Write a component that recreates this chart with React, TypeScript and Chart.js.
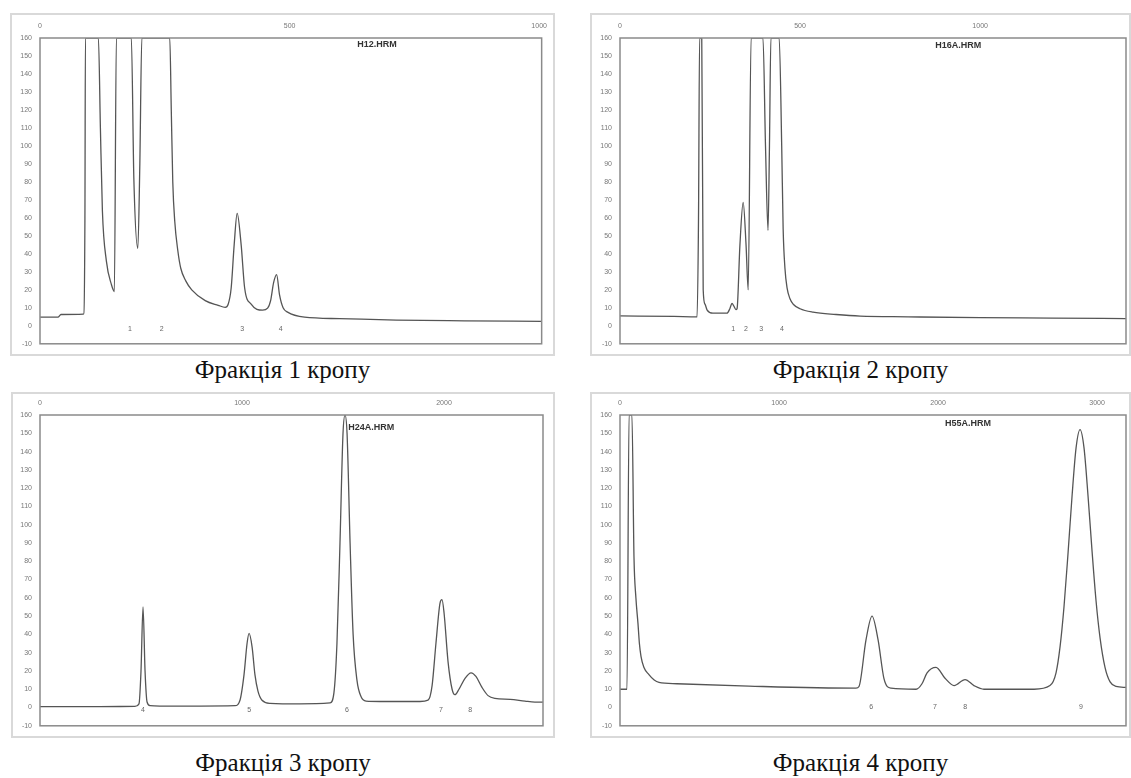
import React, { useEffect, useRef } from "react";
import { Chart, registerables } from "chart.js";

Chart.register(...registerables);

// ---------- data ----------
const yTickValues = [-10, 0, 10, 20, 30, 40, 50, 60, 70, 80, 90, 100, 110, 120, 130, 140, 150, 160];

// Фракція 1
const f1X = [0, 36, 42, 87, 90, 91, 117, 121, 125, 133,
  143, 149, 153, 183, 188, 196, 200, 204, 260, 263,
  266, 270, 276, 282, 292, 304, 331, 357, 371, 377,
  383, 389, 395, 403, 410, 423, 446, 456, 462, 468,
  474, 480, 487, 496, 530, 600, 714, 850, 1005];
const f1Y = [4.8, 4.8, 6.3, 6.5, 60, 160, 160, 110, 64, 36,
  23, 19, 160, 160, 82, 43, 90, 160, 160, 120,
  80, 58, 42, 32, 25, 20, 14, 11.4, 10.3, 12,
  21, 45, 62.5, 45, 21, 12, 8.7, 9.8, 14, 24,
  28.5, 17, 10, 7.6, 4.8, 4, 3.2, 2.8, 2.5];
const f1XTicks = [0, 500, 1000];
const f1PeakNames = ["1", "2", "3", "4"];
const f1PeakX = [180, 244, 405, 482];
const f1PeakY = [-2, -2, -2, -2];

// Фракція 2
const f2X = [0, 150, 214, 218, 221, 227, 231, 236, 242, 258,
  297, 305, 311, 316, 322, 325, 333, 342, 350, 356,
  364, 397, 404, 411, 415, 419, 442, 449, 453, 458,
  464, 472, 481, 500, 536, 600, 667, 800, 1000, 1200,
  1405];
const f2Y = [5.5, 5.2, 5, 60, 160, 160, 20, 12, 8.7, 7,
  7, 9.5, 12.5, 11, 9, 9.5, 45, 68.6, 45, 20,
  160, 160, 100, 53, 100, 160, 160, 100, 54, 32,
  21, 15, 12, 9.5, 7.6, 6.3, 5.4, 5, 4.5, 4.3,
  4];
const f2XTicks = [0, 500, 1000];
const f2PeakNames = ["1", "2", "3", "4"];
const f2PeakX = [314, 350, 392, 450];
const f2PeakY = [-2, -2, -2, -2];

// Фракція 3
const f3X = [0, 297, 470, 490, 500, 510, 520, 530, 545, 594,
  792, 965, 990, 1010, 1025, 1035, 1050, 1064, 1079, 1099,
  1139, 1287, 1436, 1455, 1470, 1485, 1500, 1510, 1520, 1535,
  1550, 1569, 1589, 1614, 1683, 1881, 1921, 1941, 1960, 1980,
  1990, 2000, 2020, 2040, 2054, 2074, 2104, 2134, 2158, 2188,
  2218, 2252, 2327, 2401, 2450, 2490];
const f3Y = [0.5, 0.5, 0.6, 2, 20, 55, 20, 3, 1, 0.8,
  0.8, 1, 4, 18, 35, 40.5, 33, 18, 9, 4,
  2.3, 2, 2.5, 8, 35, 90, 150, 160, 150, 90,
  40, 15, 6, 3.5, 3.3, 3.3, 4, 12, 35, 57,
  59, 52, 25, 10, 7, 10, 16, 19, 17, 11,
  6.5, 5, 4.5, 3.5, 3, 3];
const f3XTicks = [0, 1000, 2000];
const f3PeakNames = ["4", "5", "6", "7", "8"];
const f3PeakX = [510, 1035, 1520, 1985, 2129];
const f3PeakY = [-1.5, -1.5, -1.5, -1.5, -1.5];

// Фракція 4
const f4X = [0, 44, 57, 75, 88, 100, 113, 122, 132, 150,
  182, 215, 245, 358, 811, 1484, 1503, 1547, 1585, 1623,
  1660, 1704, 1862, 1899, 1931, 1987, 2044, 2101, 2170, 2226,
  2289, 2604, 2704, 2742, 2767, 2792, 2818, 2843, 2868, 2893,
  2918, 2943, 2969, 2994, 3019, 3050, 3082, 3119, 3182];
const f4Y = [10, 10, 160, 160, 82, 60, 46, 35, 28, 22,
  18, 15, 13.7, 13, 11.7, 10.6, 11.5, 37, 50, 37,
  15.8, 10.6, 10, 13, 19, 22, 16, 12, 15.3, 12,
  10, 10, 12, 19, 33, 55, 85, 116, 142, 152,
  142, 116, 85, 58, 38, 22, 14, 11.5, 11];
const f4XTicks = [0, 1000, 2000, 3000];
const f4PeakNames = ["6", "7", "8", "9"];
const f4PeakX = [1579, 1981, 2170, 2899];
const f4PeakY = [0.5, 0.5, 0.5, 0.5];

const fileNames = ["H12.HRM", "H16A.HRM", "H24A.HRM", "H55A.HRM"];
const fileNameX = [675, 939, 1640, 2189];
const fileNameY = [156.5, 156, 153.4, 155.6];
const captions = ["Фракція 1 кропу", "Фракція 2 кропу", "Фракція 3 кропу", "Фракція 4 кропу"];
const xMaxValues = [1005, 1405, 2490, 3182];

// ---------- layout ----------
type Rect = { l: number; t: number; r: number; b: number };
const boxes: Rect[] = [
  { l: 10, t: 13, r: 555, b: 356 },
  { l: 590, t: 13, r: 1131, b: 356 },
  { l: 11, t: 392, r: 555, b: 738 },
  { l: 590, t: 392, r: 1131, b: 738 },
];
const plots: Rect[] = [
  { l: 40, t: 38, r: 543, b: 347 },
  { l: 620, t: 38, r: 1126, b: 347 },
  { l: 40, t: 415, r: 543, b: 731 },
  { l: 620, t: 415, r: 1126, b: 731 },
];
const captionCenterY = [370, 370, 763, 763];

const FONT = "'Liberation Sans', Arial, sans-serif";

type PanelProps = {
  idx: number;
  xs: number[];
  ys: number[];
  xTicks: number[];
  peakNames: string[];
  peakX: number[];
  peakY: number[];
};

function Panel({ idx, xs, ys, xTicks, peakNames, peakX, peakY }: PanelProps) {
  const ref = useRef<HTMLCanvasElement | null>(null);
  const box = boxes[idx];
  const plot = plots[idx];
  const w = box.r - box.l;
  const h = box.b - box.t;

  useEffect(() => {
    if (!ref.current) return;
    const axisW = plot.l - box.l;
    const axisH = plot.t - box.t;
    const padR = box.r - plot.r;
    const padB = box.b - plot.b;

    const framePlugin = {
      id: "frameAndLabels" + idx,
      afterDatasetsDraw(chart: any) {
        const { ctx, chartArea, scales } = chart;
        ctx.save();
        ctx.strokeStyle = "#8a8a8a";
        ctx.lineWidth = 1.5;
        ctx.strokeRect(chartArea.left, chartArea.top, chartArea.right - chartArea.left, chartArea.bottom - chartArea.top);
        ctx.fillStyle = "#666";
        ctx.font = `7px ${FONT}`;
        ctx.textAlign = "center";
        ctx.textBaseline = "middle";
        peakNames.forEach((name, i) => {
          ctx.fillText(name, scales.x.getPixelForValue(peakX[i]), scales.y.getPixelForValue(peakY[i]));
        });
        ctx.fillStyle = "#333";
        ctx.font = `bold 9px ${FONT}`;
        ctx.fillText(fileNames[idx], scales.x.getPixelForValue(fileNameX[idx]), scales.y.getPixelForValue(fileNameY[idx]));
        ctx.restore();
      },
    };

    const chart = new Chart(ref.current, {
      type: "line",
      data: {
        datasets: [
          {
            data: xs.map((x, i) => ({ x, y: ys[i] })),
            borderColor: "#555555",
            borderWidth: 1.3,
            pointRadius: 0,
            fill: false,
            cubicInterpolationMode: "monotone",
          } as any,
        ],
      },
      options: {
        responsive: false,
        animation: false,
        devicePixelRatio: 1,
        layout: { padding: { left: 0, top: 0, right: padR, bottom: padB } },
        plugins: { legend: { display: false }, tooltip: { enabled: false }, title: { display: false } },
        scales: {
          x: {
            type: "linear",
            position: "top",
            min: 0,
            max: xMaxValues[idx],
            grid: { display: false, drawTicks: false },
            border: { display: false },
            afterBuildTicks: (s: any) => {
              s.ticks = xTicks.map((v) => ({ value: v }));
            },
            afterFit: (s: any) => {
              s.height = axisH;
            },
            ticks: {
              autoSkip: false,
              maxRotation: 0,
              padding: 8,
              color: "#777",
              font: { size: 7, family: FONT },
              callback: (v: any) => String(v),
            },
          },
          y: {
            min: -10,
            max: 160,
            grid: { display: false, drawTicks: false },
            border: { display: false },
            afterBuildTicks: (s: any) => {
              s.ticks = yTickValues.map((v) => ({ value: v }));
            },
            afterFit: (s: any) => {
              s.width = axisW;
            },
            ticks: {
              autoSkip: false,
              padding: 8,
              color: "#777",
              font: { size: 7, family: FONT },
              callback: (v: any) => String(v),
            },
          },
        },
      } as any,
      plugins: [framePlugin],
    });
    return () => chart.destroy();
  }, []);

  return (
    <>
      <div
        style={{
          position: "absolute",
          left: box.l,
          top: box.t,
          width: w,
          height: h,
          boxSizing: "border-box",
          border: "2px solid #d9d9d9",
          background: "#fff",
        }}
      />
      <canvas
        ref={ref}
        width={w}
        height={h}
        style={{ position: "absolute", left: box.l, top: box.t, width: w, height: h }}
      />
      <div
        style={{
          position: "absolute",
          left: box.l,
          width: w,
          top: captionCenterY[idx] - 14,
          height: 28,
          lineHeight: "28px",
          textAlign: "center",
          fontFamily: "'Liberation Serif', 'Times New Roman', serif",
          fontSize: 25,
          color: "#111",
          whiteSpace: "nowrap",
        }}
      >
        {captions[idx]}
      </div>
    </>
  );
}

export default function App() {
  return (
    <div style={{ position: "absolute", left: 0, top: 0, width: 1131, height: 778, background: "#fff", overflow: "hidden" }}>
      <Panel idx={0} xs={f1X} ys={f1Y} xTicks={f1XTicks} peakNames={f1PeakNames} peakX={f1PeakX} peakY={f1PeakY} />
      <Panel idx={1} xs={f2X} ys={f2Y} xTicks={f2XTicks} peakNames={f2PeakNames} peakX={f2PeakX} peakY={f2PeakY} />
      <Panel idx={2} xs={f3X} ys={f3Y} xTicks={f3XTicks} peakNames={f3PeakNames} peakX={f3PeakX} peakY={f3PeakY} />
      <Panel idx={3} xs={f4X} ys={f4Y} xTicks={f4XTicks} peakNames={f4PeakNames} peakX={f4PeakX} peakY={f4PeakY} />
    </div>
  );
}
